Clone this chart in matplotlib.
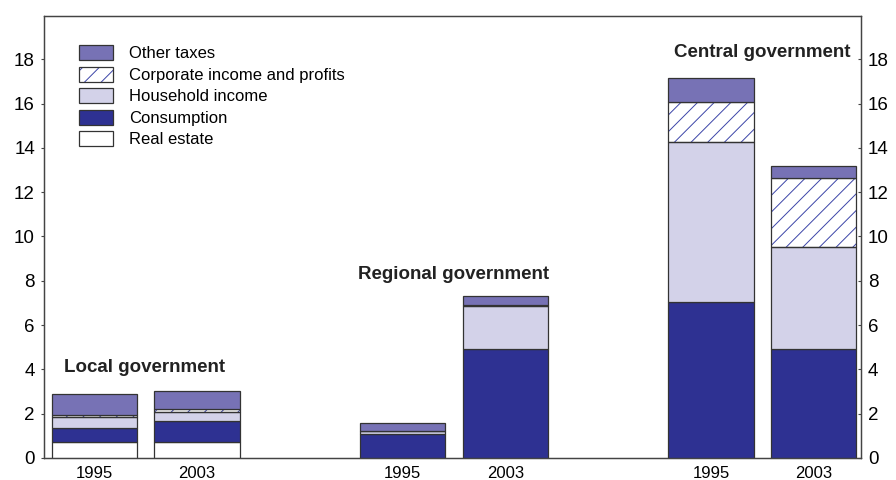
import matplotlib
matplotlib.use("Agg")
import matplotlib.pyplot as plt
from matplotlib.patches import Patch
import numpy as np

plt.rcParams['font.family'] = ['Liberation Sans', 'DejaVu Sans']
plt.rcParams['hatch.linewidth'] = 0.7

groups = ["Local government", "Regional government", "Central government"]
years = ["1995", "2003", "1995", "2003", "1995", "2003"]
real_estate = [0.70, 0.72, 0.0, 0.0, 0.0, 0.0]
consumption = [0.67, 0.93, 1.10, 4.92, 7.02, 4.92]
household = [0.47, 0.41, 0.10, 1.94, 7.25, 4.61]
corporate = [0.10, 0.14, 0.03, 0.05, 1.80, 3.11]
other_taxes = [0.95, 0.84, 0.37, 0.40, 1.08, 0.54]

positions = np.array([0, 1, 3, 4, 6, 7], dtype=float)

fig = plt.figure(figsize=(8.96, 4.8), dpi=100)
ax = fig.add_axes([44/896, 22/480, (861-44)/896, (458-16)/480])

edge = '#333333'
hatch_col = '#3B44A8'
w = 0.83
lw = 0.9
bottom = np.zeros(len(positions))
series = [
    ("Real estate", real_estate, 'white', None),
    ("Consumption", consumption, '#2E3192', None),
    ("Household income", household, '#D3D2E9', None),
    ("Corporate income and profits", corporate, 'white', '//'),
    ("Other taxes", other_taxes, '#7772B5', None),
]
handles = {}
for name, vals, col, hatch in series:
    vals = np.array(vals)
    if hatch:
        ax.bar(positions, vals, w, bottom=bottom, color=col, edgecolor=hatch_col,
               hatch=hatch, linewidth=0, zorder=2)
        ax.bar(positions, vals, w, bottom=bottom, fill=False, edgecolor=edge,
               linewidth=lw, zorder=3)
        handles[name] = (Patch(facecolor=col, edgecolor=hatch_col, hatch='//', linewidth=0),
                         Patch(fill=False, edgecolor=edge, linewidth=lw))
    else:
        ax.bar(positions, vals, w, bottom=bottom, color=col, edgecolor=edge,
               linewidth=lw, zorder=3)
        handles[name] = Patch(facecolor=col, edgecolor=edge, linewidth=lw)
    bottom = bottom + vals

ax.set_xlim(-0.49, 7.46)
ax.set_ylim(0, 19.95)
ax.set_yticks(np.arange(0, 19, 2))
ax.set_xticks(positions)
ax.set_xticklabels(years, fontsize=12)
ax.tick_params(axis='x', length=0, pad=6)
ax.tick_params(axis='y', direction='out', length=2.5, pad=4, labelsize=13.5, color='#444444', width=0.8)
for s in ax.spines.values():
    s.set_color('#444444')
    s.set_linewidth(0.9)

ax2 = ax.twinx()
ax2.set_ylim(ax.get_ylim())
ax2.set_yticks(np.arange(0, 19, 2))
ax2.tick_params(axis='y', direction='in', length=2.5, pad=5, labelsize=13.5, color='#444444', width=0.8)
for s in ax2.spines.values():
    s.set_color('#444444')
    s.set_linewidth(0.9)

tkw = dict(fontsize=13.5, fontweight='bold', color='#222222', va='center')
ax.text(-0.296, 4.1, groups[0], ha='left', **tkw)
ax.text(3.5, 8.3, groups[1], ha='center', **tkw)
ax.text(6.5, 18.31, groups[2], ha='center', **tkw)

order = ["Other taxes", "Corporate income and profits", "Household income", "Consumption", "Real estate"]
leg = ax.legend([handles[n] for n in order], order, loc='upper left',
                bbox_to_anchor=(0.025, 0.968), frameon=False, fontsize=12,
                handlelength=2.0, handleheight=1.0, labelspacing=0.32, handletextpad=0.96)

fig.savefig("out.png", dpi=100)
